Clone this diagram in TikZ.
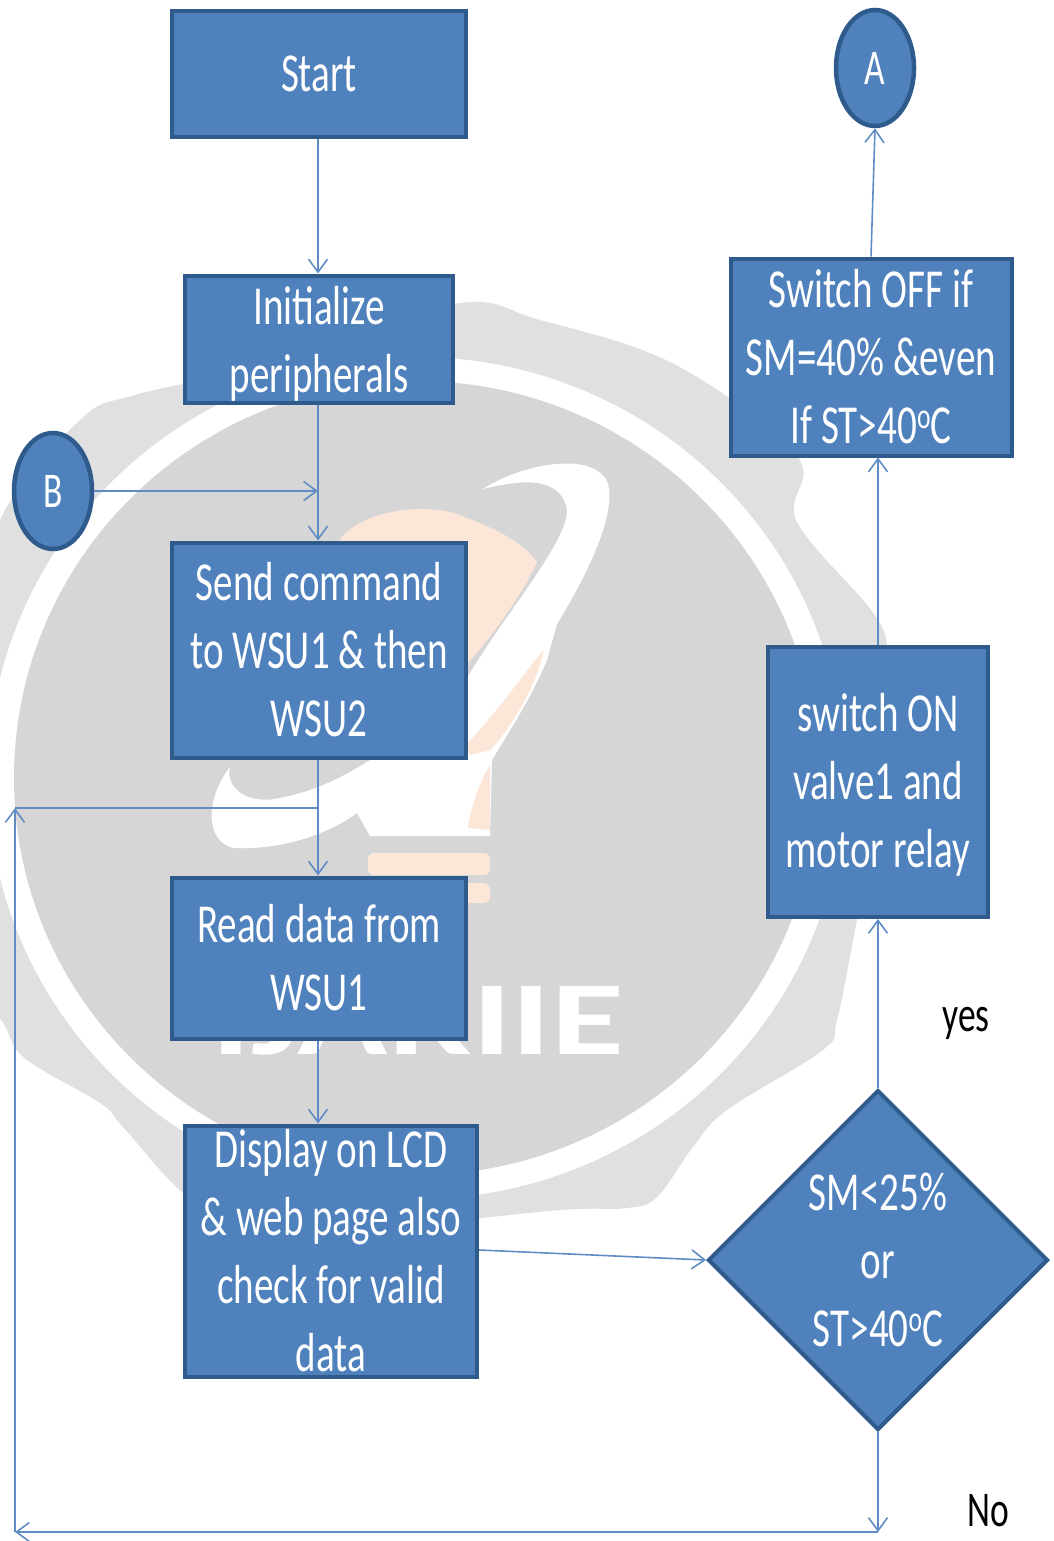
\documentclass[tikz,border=0pt]{standalone}
\usepackage{fontspec}
\setmainfont[FakeStretch=0.71]{Carlito}
\usetikzlibrary{arrows.meta}
\usetikzlibrary{shapes.geometric}
\definecolor{boxfill}{HTML}{4F81BD}
\definecolor{boxline}{HTML}{2F5A8C}
\definecolor{wireline}{HTML}{5F8CC4}
\definecolor{markouter}{HTML}{E0E0E0}
\definecolor{markinner}{HTML}{D6D6D6}
\definecolor{markbulb}{HTML}{FBE6D8}
\newcommand{\dg}{\raisebox{15pt}{\fontsize{36}{36}\selectfont o}}

\begin{document}
\begin{tikzpicture}
[
x=1pt,y=-1pt,
>={Straight Barb[length=13pt,width=19pt]},
box-a/.style={rectangle,draw=boxline,fill=boxfill,line width=4pt,text=white,align=center,
              font=\fontsize{55}{68}\selectfont,inner sep=0pt},
joint-a/.style={ellipse,draw=boxline,fill=boxfill,line width=4.5pt,text=white,inner sep=0pt,
                font=\fontsize{50}{60}\selectfont,minimum width=78pt,minimum height=116pt},
test-a/.style={diamond,draw=boxline,fill=boxfill,line width=4pt,text=white,align=center,
               font=\fontsize{55}{68}\selectfont,inner sep=-60pt,minimum width=340pt,minimum height=340pt},
text-a/.style={black,font=\fontsize{50}{60}\selectfont},
wire-a/.style={draw=wireline,line width=1.6pt},
]
\useasboundingbox (0,0) rectangle (1053,1541);
\begin{scope}
\clip (0,0) rectangle (1053,1541);
\fill [markouter] plot [smooth cycle,tension=0.6] coordinates {(80,420) (135,395) (264,365) (453,304) (540,320)
      (676,365) (797,456) (797,522) (878,620) (885,674) (880,800) (855,930) (837,1020) (823,1050)
      (727,1110) (693,1147) (657,1197) (627,1208) (560,1210) (400,1225) (240,1225) (183,1193) (123,1127) (100,1103)
      (27,1060) (7,1030) (-10,980) (-30,780) (-20,640) (0,520)};
\fill [white] (416,778) ellipse [x radius=428,y radius=421];
\fill [markinner] (416,778) ellipse [x radius=402,y radius=397];
\fill [white] (483,489) .. controls (520,465) and (590,450) .. (607,481) .. controls (618,510) and (590,570) .. (557,624)
      -- (547,660) .. controls (530,700) and (510,730) .. (492,760) -- (490,836) -- (370,836) -- (357,813)
      .. controls (320,840) and (270,850) .. (233,848) .. controls (205,840) and (205,800) .. (230,767)
      .. controls (225,790) and (250,805) .. (280,798) .. controls (320,790) and (350,775) .. (400,740)
      -- (466,680) .. controls (500,620) and (570,540) .. (567,509) .. controls (560,475) and (520,480) .. (483,489) -- cycle;
\fill [markbulb] (340,540) .. controls (360,510) and (430,500) .. (467,518) .. controls (500,530) and (525,545) .. (537,562)
      .. controls (525,590) and (490,640) .. (466,665) -- (340,665) -- cycle;
\fill [markbulb] (466,745) .. controls (490,720) and (520,680) .. (543,650) .. controls (540,680) and (510,730) .. (490,750) -- (470,755) -- cycle;
\fill [markbulb] (490,765) .. controls (480,780) and (470,810) .. (468,828) -- (490,830) -- cycle;
\fill [markbulb,rounded corners=6pt] (368,853) rectangle (490,875);
\fill [markbulb,rounded corners=6pt] (368,883) rectangle (490,903);
\node (mark) [white,xscale=2.0,font=\fontsize{105}{105}\bfseries\selectfont] at (418,1021) {IJARIIE};
\end{scope}
\node (start) [box-a, minimum width=294pt, minimum height=126pt] at (319,74)   {Start};
\node (init)  [box-a, minimum width=268pt, minimum height=127pt, text depth=0pt] at (319,339)  {Initialize\\peripherals};
\node (send)  [box-a, minimum width=294pt, minimum height=215pt] at (319,650)  {Send command\\to WSU1 \& then\\WSU2};
\node (read)  [box-a, minimum width=294pt, minimum height=161pt] at (319,958)  {Read data from\\WSU1};
\node (show)  [box-a, minimum width=292pt, minimum height=251pt] at (331,1251) {Display on LCD\\\& web page also\\check for valid\\data};
\node (test)  [test-a] at (878,1260) {SM<25\%\\or\\ST>40\dg C};
\node (on)    [box-a, minimum width=220pt, minimum height=270pt, text depth=3pt] at (878,782)  {switch ON\\valve1 and\\motor relay};
\node (off)   [box-a, minimum width=281pt, minimum height=197pt] at (871,357)  {Switch OFF if\\SM=40\% \&even\\If ST>40\dg C};
\node (ja)    [joint-a] at (875,68)  {A};
\node (jb)    [joint-a] at (53,491)  {B};
\node (yes)   [text-a]  at (966,1023) {yes};
\node (no)    [text-a]  at (988,1511) {No};
\coordinate (cb) at (318,491);
\coordinate (cm) at (318,808);
\coordinate (cl) at (15,808);
\coordinate (cf) at (15,1532);
\coordinate (cr) at (878,1532);
\draw [->,wire-a] (start.south -| cb) -- (init.north -| cb);
\draw [->,wire-a] (init.south -| cb) -- (send.north -| cb);
\draw [->,wire-a] (jb) -- (cb);
\draw [->,wire-a] (send.south -| cb) -- (read.north -| cb);
\draw [->,wire-a] (read.south -| cb) -- (show.north -| cb);
\draw [->,wire-a] (show.east |- 0,1250) -- (test.west);
\draw [->,wire-a] (test.north) -- (on.south);
\draw [->,wire-a] (on.north) -- (off.south -| on.north);
\draw [->,wire-a] (off.north) -- (ja.south);
\draw [->,wire-a] (test.south) -- (cr);
\draw [->,wire-a] (cr) -- (cf);
\draw [->,wire-a] (cf) -- (cl);
\draw [wire-a] (cl) -- (cm);
\end{tikzpicture}
\end{document}
